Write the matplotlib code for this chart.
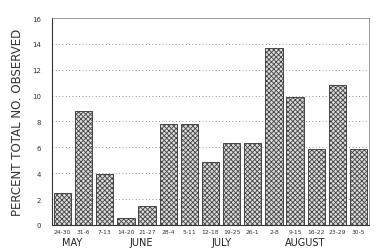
import matplotlib
matplotlib.use("Agg")
import matplotlib.pyplot as plt
from matplotlib.transforms import blended_transform_factory

# data
semanas = ["24-30", "31-6", "7-13", "14-20", "21-27", "28-4", "5-11", "12-18",
           "19-25", "26-1", "2-8", "9-15", "16-22", "23-29", "30-5"]
porcentajes = [2.5, 8.8, 3.9, 0.5, 1.5, 7.8, 7.8, 4.9, 6.3, 6.3, 13.7, 9.9, 5.9, 10.8, 5.9]
meses = ["MAY", "JUNE", "JULY", "AUGUST"]
pos_meses = [0.45, 3.7, 7.5, 11.5]

plt.rcParams["font.family"] = "DejaVu Sans"
plt.rcParams["hatch.color"] = "#4a4a4a"
plt.rcParams["hatch.linewidth"] = 0.6

fig = plt.figure(figsize=(3.82, 2.51), dpi=100)
ax = fig.add_axes([0.136, 0.10, 0.830, 0.824])

x = list(range(len(semanas)))
ax.bar(x, porcentajes, width=0.82, color="#dcdcdc", edgecolor="#444444",
       linewidth=0.7, hatch="xxxxxxx", zorder=3)

ax.set_xlim(-0.5, len(semanas) - 0.5)
ax.set_ylim(0, 16)
ax.set_yticks(range(0, 17, 2))
ax.tick_params(axis="y", labelsize=5, length=0, pad=8, colors="#333333")
ax.set_xticks(x)
ax.set_xticklabels(semanas, fontsize=4.3)
ax.tick_params(axis="x", length=0, pad=3, colors="#333333")

for v in range(2, 16, 2):
    ax.axhline(v, color="#777777", linestyle=(0, (1, 3)), linewidth=0.6, zorder=1)

for lado in ["top", "right"]:
    ax.spines[lado].set_color("#888888")
    ax.spines[lado].set_linewidth(0.6)
for lado in ["left", "bottom"]:
    ax.spines[lado].set_color("#333333")
    ax.spines[lado].set_linewidth(0.8)

ax.set_ylabel("PERCENT TOTAL NO. OBSERVED", fontsize=8.5, color="#333333", labelpad=6)

trans = blended_transform_factory(ax.transData, fig.transFigure)
for m, p in zip(meses, pos_meses):
    ax.text(p, 0.012, m, transform=trans, ha="center", va="bottom",
            fontsize=7, color="#222222")

fig.savefig("out.png", dpi=100)
